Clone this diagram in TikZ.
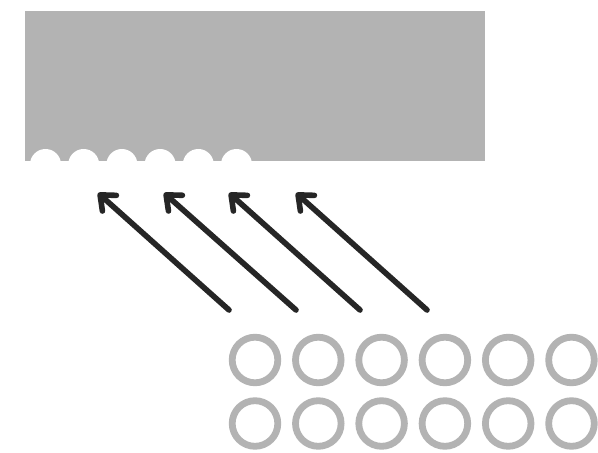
\documentclass[tikz,border=0pt]{standalone}
\usetikzlibrary{arrows.meta}
\definecolor{panelgray}{HTML}{B3B3B3}
\definecolor{arrowdark}{HTML}{262626}
\tikzset{
  panel/.style={fill=panelgray,draw=none},
  notch/.style={fill=white,draw=none},
  ring/.style={draw=panelgray,line width=6.8pt,fill=none},
  bigarrow/.style={draw=arrowdark,line width=5.6pt,line cap=round,line join=round,
    -{Straight Barb[length=12.5pt,width=21pt,round,line width=5.6pt]}}
}
\begin{document}
\begin{tikzpicture}[x=1pt,y=-1pt]
\useasboundingbox (0,0) rectangle (598,453);
\fill[white] (0,0) rectangle (598,453);
\path[panel] (25,11) rectangle (485,161);
\foreach \x in {45.5,83.7,121.9,160.1,198.3,236.5}
  \path[notch] (\x,164.5) circle[radius=15.5pt];
\fill[white] (25,161) rectangle (260,185);
\foreach \i in {0,...,5}{
  \path[ring] (255+\i*63.3,360) circle[radius=22.8pt];
  \path[ring] (255+\i*63.3,423.5) circle[radius=22.8pt];
}
\coordinate (t1) at (229,310); \coordinate (h1) at (98,193);
\coordinate (t2) at (296,310); \coordinate (h2) at (164,193);
\coordinate (t3) at (360,310); \coordinate (h3) at (229,193);
\coordinate (t4) at (427,310); \coordinate (h4) at (296,193);
\foreach \k in {1,2,3,4}
  \draw[bigarrow] (t\k) -- (h\k);
\end{tikzpicture}
\end{document}
